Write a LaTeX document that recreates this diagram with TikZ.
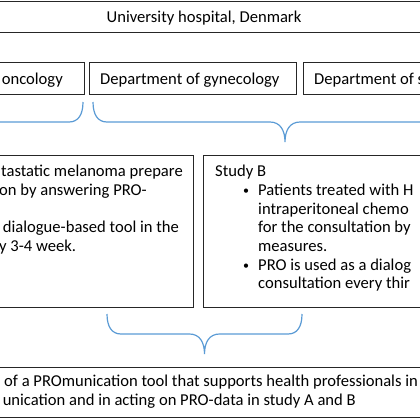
\documentclass[tikz,border=0pt]{standalone}
\usepackage{fontspec}
\setmainfont{Carlito}
\usetikzlibrary{calc}
\definecolor{braceblue}{HTML}{5B9BD5}
\definecolor{boxline}{HTML}{262626}

\begin{document}
\begin{tikzpicture}[x=1pt,y=-1pt,
  box/.style={draw=boxline,line width=1.3pt,anchor=north west,inner sep=0pt},
  txt/.style={inner sep=0pt,font=\fontsize{16.6}{18.67}\selectfont},
  brace/.style={draw=braceblue,line width=1.2pt}]
\useasboundingbox (0,0) rectangle (420,420);
\clip (0,0) rectangle (420,420);
% boxes
\node[box,minimum width=520pt,minimum height=31pt] (hosp) at (-50,1) {};
\node[box,minimum width=207pt,minimum height=32pt] (onc) at (-123,62) {};
\node[box,minimum width=207pt,minimum height=32pt] (gyn) at (89,62) {};
\node[box,minimum width=207pt,minimum height=32pt] (sur) at (303,62) {};
\node[box,minimum width=383pt,minimum height=152pt] (studyA) at (-190,155) {};
\node[box,minimum width=383pt,minimum height=152pt] (studyB) at (203,155) {};
\node[box,minimum width=520pt,minimum height=50pt] (tool) at (-50,367) {};
% texts
\node[txt,anchor=base] (hospt) at (204,22.7) {University hospital, Denmark};
\node[txt,anchor=base east] (onct) at (63,84) {of oncology};
\node[txt,anchor=base west] (gynt) at (100,84) {Department of gynecology};
\node[txt,anchor=base west] (surt) at (314,84) {Department of s};
\node[txt,anchor=base west] (sa0) at (1,176.7) {tastatic melanoma prepare};
\node[txt,anchor=base west] (sa1) at (-1,195.4) {on by answering PRO-};
\node[txt,anchor=base west] (sa3) at (2.7,232.7) {dialogue-based tool in the};
\node[txt,anchor=base west] (sa4) at (-1,251.4) {y 3-4 week.};
\node[txt,anchor=base west] (sb) at (215,176.7) {Study B};
\foreach \t [count=\i from 0] in {Patients treated with H,intraperitoneal chemo,for the consultation by,measures.,PRO is used as a dialog,consultation every thir}
  \node[txt,anchor=base west] (sb\i) at (258,{195.4+18.67*\i}) {\t};
\foreach \i in {0,4} \node[txt,anchor=base west,font=\fontsize{12}{12}\selectfont] (dot\i) at (243,{194.4+18.67*\i}) {\textbullet};
\node[txt,anchor=base west] (tool1) at (4,386.7) {of a PROmunication tool that supports health professionals in p};
\node[txt,anchor=base east] (tool2) at (356,405.4) {unication and in acting on PRO-data in study A and B};
% braces
\foreach \l/\r/\y in {-115/83/102,93/477/102,107/302/314}
  \draw[brace] (\l,\y) .. controls (\l,{\y+13}) and ({\l+5},{\y+20}) .. ({\l+14},{\y+20})
    -- ({(\l+\r)/2-15},{\y+20}) .. controls ({(\l+\r)/2-5},{\y+20}) and ({(\l+\r)/2},{\y+28}) .. ({(\l+\r)/2},{\y+40})
    .. controls ({(\l+\r)/2},{\y+28}) and ({(\l+\r)/2+5},{\y+20}) .. ({(\l+\r)/2+15},{\y+20})
    -- ({\r-14},{\y+20}) .. controls ({\r-5},{\y+20}) and (\r,{\y+13}) .. (\r,\y);
\end{tikzpicture}
\end{document}
